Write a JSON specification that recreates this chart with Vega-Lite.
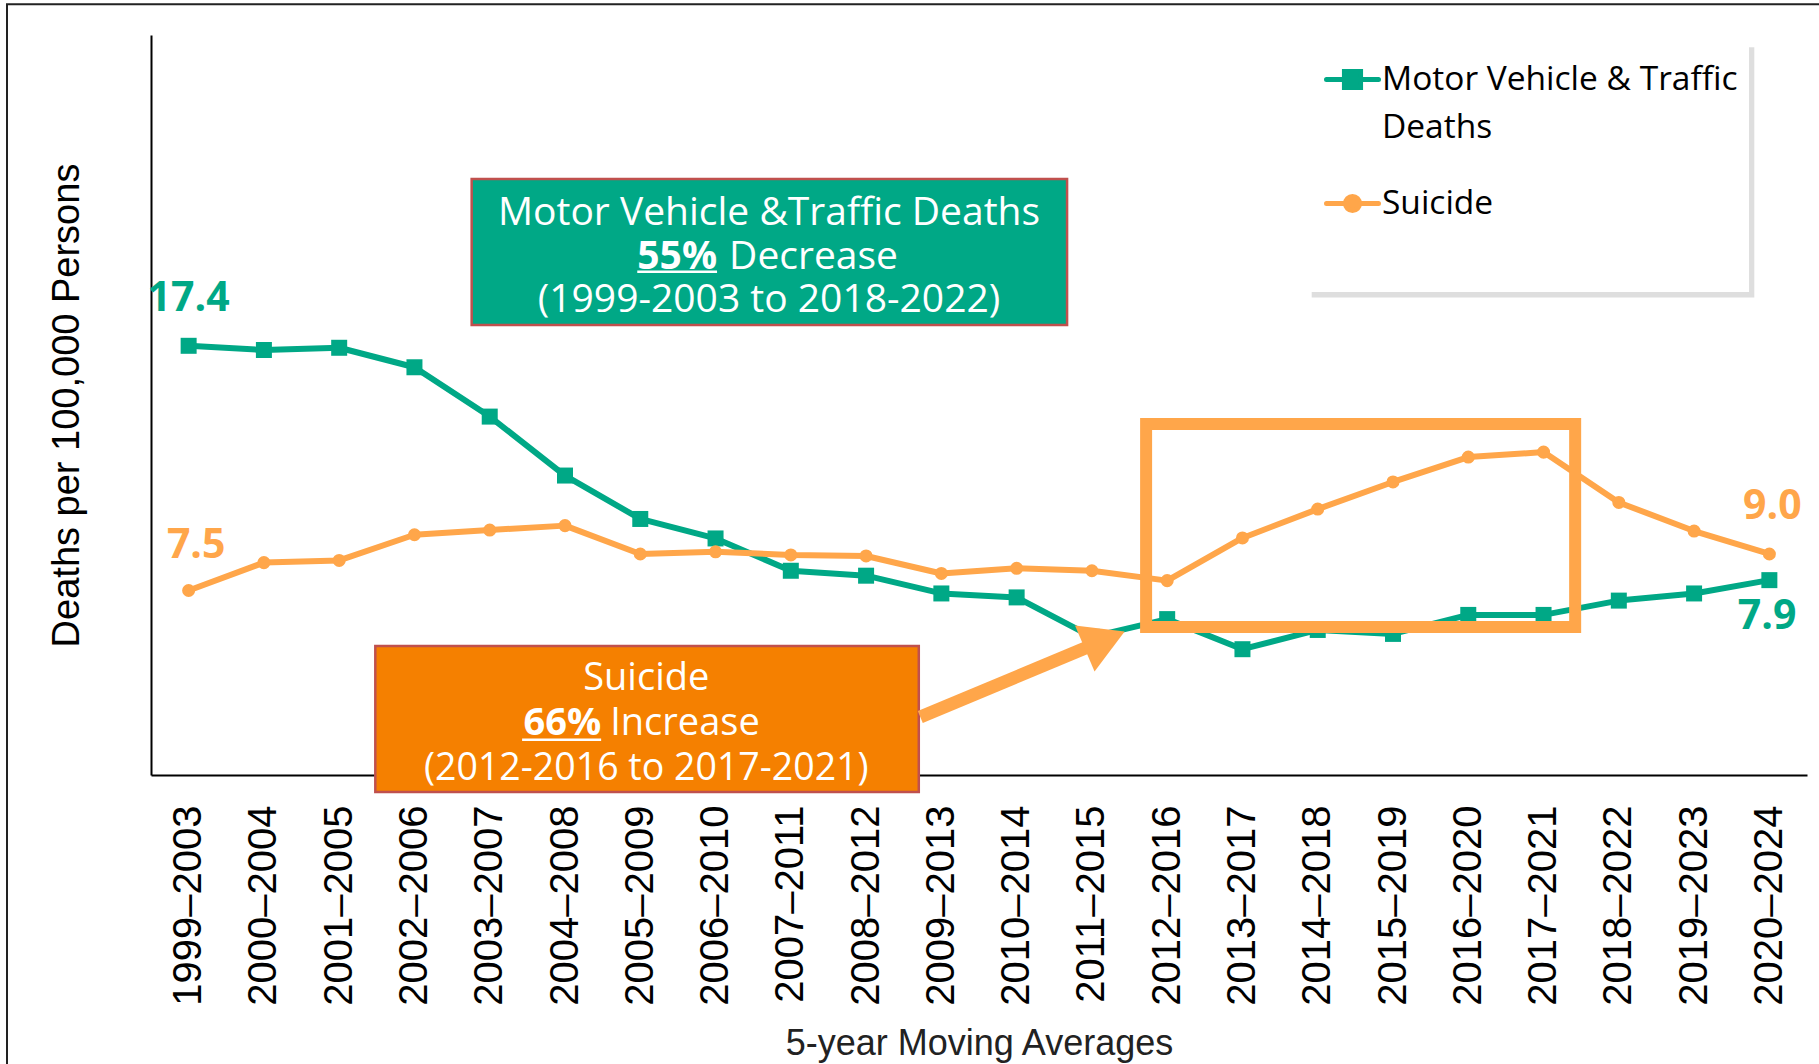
{
  "$schema": "https://vega.github.io/schema/vega-lite/v6.json",
  "width": 1656,
  "height": 740,
  "autosize": "none",
  "padding": {"left": 151, "top": 35, "right": 12, "bottom": 289},
  "background": "white",
  "config": {"view": {"stroke": null}, "font": "Open Sans"},
  "datasets": {
    "rates": [
      {"period": "1999–2003", "series": "Motor Vehicle & Traffic Deaths", "rate": 17.4},
      {"period": "2000–2004", "series": "Motor Vehicle & Traffic Deaths", "rate": 17.23},
      {"period": "2001–2005", "series": "Motor Vehicle & Traffic Deaths", "rate": 17.32},
      {"period": "2002–2006", "series": "Motor Vehicle & Traffic Deaths", "rate": 16.53},
      {"period": "2003–2007", "series": "Motor Vehicle & Traffic Deaths", "rate": 14.53},
      {"period": "2004–2008", "series": "Motor Vehicle & Traffic Deaths", "rate": 12.14},
      {"period": "2005–2009", "series": "Motor Vehicle & Traffic Deaths", "rate": 10.38},
      {"period": "2006–2010", "series": "Motor Vehicle & Traffic Deaths", "rate": 9.59},
      {"period": "2007–2011", "series": "Motor Vehicle & Traffic Deaths", "rate": 8.28},
      {"period": "2008–2012", "series": "Motor Vehicle & Traffic Deaths", "rate": 8.08},
      {"period": "2009–2013", "series": "Motor Vehicle & Traffic Deaths", "rate": 7.36},
      {"period": "2010–2014", "series": "Motor Vehicle & Traffic Deaths", "rate": 7.2},
      {"period": "2011–2015", "series": "Motor Vehicle & Traffic Deaths", "rate": 5.6},
      {"period": "2012–2016", "series": "Motor Vehicle & Traffic Deaths", "rate": 6.32},
      {"period": "2013–2017", "series": "Motor Vehicle & Traffic Deaths", "rate": 5.1},
      {"period": "2014–2018", "series": "Motor Vehicle & Traffic Deaths", "rate": 5.88},
      {"period": "2015–2019", "series": "Motor Vehicle & Traffic Deaths", "rate": 5.72},
      {"period": "2016–2020", "series": "Motor Vehicle & Traffic Deaths", "rate": 6.49},
      {"period": "2017–2021", "series": "Motor Vehicle & Traffic Deaths", "rate": 6.49},
      {"period": "2018–2022", "series": "Motor Vehicle & Traffic Deaths", "rate": 7.07},
      {"period": "2019–2023", "series": "Motor Vehicle & Traffic Deaths", "rate": 7.36},
      {"period": "2020–2024", "series": "Motor Vehicle & Traffic Deaths", "rate": 7.9},
      {"period": "1999–2003", "series": "Suicide", "rate": 7.48},
      {"period": "2000–2004", "series": "Suicide", "rate": 8.61},
      {"period": "2001–2005", "series": "Suicide", "rate": 8.7},
      {"period": "2002–2006", "series": "Suicide", "rate": 9.74},
      {"period": "2003–2007", "series": "Suicide", "rate": 9.93},
      {"period": "2004–2008", "series": "Suicide", "rate": 10.11},
      {"period": "2005–2009", "series": "Suicide", "rate": 8.96},
      {"period": "2006–2010", "series": "Suicide", "rate": 9.05},
      {"period": "2007–2011", "series": "Suicide", "rate": 8.92},
      {"period": "2008–2012", "series": "Suicide", "rate": 8.88},
      {"period": "2009–2013", "series": "Suicide", "rate": 8.17},
      {"period": "2010–2014", "series": "Suicide", "rate": 8.38},
      {"period": "2011–2015", "series": "Suicide", "rate": 8.28},
      {"period": "2012–2016", "series": "Suicide", "rate": 7.88},
      {"period": "2013–2017", "series": "Suicide", "rate": 9.61},
      {"period": "2014–2018", "series": "Suicide", "rate": 10.78},
      {"period": "2015–2019", "series": "Suicide", "rate": 11.88},
      {"period": "2016–2020", "series": "Suicide", "rate": 12.89},
      {"period": "2017–2021", "series": "Suicide", "rate": 13.09},
      {"period": "2018–2022", "series": "Suicide", "rate": 11.05},
      {"period": "2019–2023", "series": "Suicide", "rate": 9.89},
      {"period": "2020–2024", "series": "Suicide", "rate": 8.96}
    ]
  },
  "layer": [
    {
      "data": {"name": "rates"},
      "encoding": {
        "x": {
          "field": "period", "type": "nominal", "sort": null,
          "scale": {"type": "point", "padding": 0.5},
          "axis": {
            "title": "5-year Moving Averages",
            "titleFont": "Liberation Sans", "titleFontSize": 36, "titleFontWeight": "normal", "titleColor": "#222222",
            "titlePadding": 51,
            "labelAngle": 270, "labelFont": "Liberation Sans", "labelFontSize": 40, "labelColor": "#000000",
            "labelPadding": 30, "labelLimit": 400, "ticks": false, "domainColor": "#000000", "domainWidth": 2, "zindex": 0,
            "labelOverlap": false
          }
        },
        "y": {
          "field": "rate", "type": "quantitative",
          "scale": {"domain": [0, 30], "nice": false, "zero": true},
          "axis": {
            "title": "Deaths per 100,000 Persons",
            "titleFont": "Liberation Sans", "titleFontSize": 38, "titleFontWeight": "normal", "titleColor": "#000000",
            "titlePadding": 65, "labels": false, "ticks": false, "grid": false,
            "domainColor": "#000000", "domainWidth": 2, "zindex": 0
          }
        }
      },
      "layer": [
        {
          "mark": {"type": "line", "strokeWidth": 6, "strokeJoin": "round", "strokeCap": "round"},
          "encoding": {
            "color": {
              "field": "series", "type": "nominal",
              "scale": {"domain": ["Motor Vehicle & Traffic Deaths", "Suicide"], "range": ["#00A886", "#FFA64A"]},
              "legend": {
                "title": null,
                "orient": "none",
                "legendX": 1173,
                "legendY": 16,
                "direction": "vertical",
                "padding": 0,
                "labelFont": "Open Sans",
                "labelFontSize": 33.5,
                "labelColor": "#000000",
                "labelLimit": 700,
                "labelOffset": 1,
                "symbolSize": 2704,
                "symbolStrokeWidth": 5,
                "rowPadding": 31,
                "labelExpr": "datum.label === 'Suicide' ? datum.label : ['Motor Vehicle & Traffic', 'Deaths']",
                "encode": {
                  "symbols": {
                    "update": {
                      "shape": {"signal": "datum.value === 'Suicide' ? 'M-1,0H1M-0.27,0A0.27,0.27,0,1,0,0.27,0A0.27,0.27,0,1,0,-0.27,0Z' : 'M-1,0H1M-0.31,-0.31H0.31V0.31H-0.31Z'"},
                      "fill": {"scale": "color", "field": "value"},
                      "stroke": {"scale": "color", "field": "value"},
                      "strokeWidth": {"value": 5},
                      "strokeCap": {"value": "round"},
                      "opacity": {"value": 1}
                    }
                  },
                  "labels": {
                    "update": {
                      "lineHeight": {"value": 48}
                    }
                  }
                }
              }
            }
          }
        },
        {
          "transform": [{"filter": "datum.series === 'Motor Vehicle & Traffic Deaths'"}],
          "mark": {"type": "point", "shape": "square", "filled": true, "size": 256, "opacity": 1, "color": "#00A886"}
        },
        {
          "transform": [{"filter": "datum.series === 'Suicide'"}],
          "mark": {"type": "point", "shape": "circle", "filled": true, "size": 170, "opacity": 1, "color": "#FFA64A"}
        }
      ]
    },
    {
      "data": {"values": [{"note": 1}]},
      "layer": [
        {
          "mark": {"type": "rect", "fill": null, "fillOpacity": 0, "stroke": "#222222", "strokeWidth": 2},
          "encoding": {
            "x": {"datum": -1.913, "type": "quantitative", "scale": {"domain": [0, 22], "nice": false, "zero": false}, "axis": null},
            "x2": {"datum": 22.4},
            "y": {"datum": 31.25, "type": "quantitative", "scale": {"domain": [0, 30], "nice": false}, "axis": null},
            "y2": {"datum": -12.5}
          }
        },
        {
          "mark": {"type": "rect", "fill": "#c8c8c8", "opacity": 0.6},
          "encoding": {
            "x": {"datum": 15.42, "type": "quantitative", "scale": {"domain": [0, 22], "nice": false, "zero": false}, "axis": null},
            "x2": {"datum": 21.3},
            "y": {"datum": 29.5, "type": "quantitative", "scale": {"domain": [0, 30], "nice": false}, "axis": null},
            "y2": {"datum": 19.36}
          }
        },
        {
          "mark": {"type": "rect", "fill": "#ffffff"},
          "encoding": {
            "x": {"datum": 15.36, "type": "quantitative", "scale": {"domain": [0, 22], "nice": false, "zero": false}, "axis": null},
            "x2": {"datum": 21.23},
            "y": {"datum": 29.67, "type": "quantitative", "scale": {"domain": [0, 30], "nice": false}, "axis": null},
            "y2": {"datum": 19.58}
          }
        },
        {
          "mark": {"type": "rect", "fill": "#00A886", "stroke": "#C0504D", "strokeWidth": 2.5},
          "encoding": {
            "x": {"datum": 4.26, "type": "quantitative", "scale": {"domain": [0, 22], "nice": false, "zero": false}, "axis": null},
            "x2": {"datum": 12.17},
            "y": {"datum": 24.16, "type": "quantitative", "scale": {"domain": [0, 30], "nice": false}, "axis": null},
            "y2": {"datum": 18.24}
          }
        },
        {
          "mark": {"type": "text", "text": "Motor Vehicle &Traffic Deaths", "font": "Open Sans", "fontSize": 39, "color": "#ffffff", "align": "center", "baseline": "middle"},
          "encoding": {
            "x": {"datum": 8.21, "type": "quantitative", "scale": {"domain": [0, 22], "nice": false, "zero": false}, "axis": null},
            "y": {"datum": 22.8, "type": "quantitative", "scale": {"domain": [0, 30], "nice": false}, "axis": null}
          }
        },
        {
          "mark": {"type": "text", "text": "55%", "font": "Open Sans", "fontSize": 39, "fontWeight": "bold", "color": "#ffffff", "align": "right", "baseline": "middle"},
          "encoding": {
            "x": {"datum": 7.52, "type": "quantitative", "scale": {"domain": [0, 22], "nice": false, "zero": false}, "axis": null},
            "y": {"datum": 21.02, "type": "quantitative", "scale": {"domain": [0, 30], "nice": false}, "axis": null}
          }
        },
        {
          "mark": {"type": "text", "text": "Decrease", "font": "Open Sans", "fontSize": 39, "color": "#ffffff", "align": "left", "baseline": "middle"},
          "encoding": {
            "x": {"datum": 7.68, "type": "quantitative", "scale": {"domain": [0, 22], "nice": false, "zero": false}, "axis": null},
            "y": {"datum": 21.02, "type": "quantitative", "scale": {"domain": [0, 30], "nice": false}, "axis": null}
          }
        },
        {
          "mark": {"type": "rule", "color": "#ffffff", "strokeWidth": 2.5},
          "encoding": {
            "x": {"datum": 6.46, "type": "quantitative", "scale": {"domain": [0, 22], "nice": false, "zero": false}, "axis": null},
            "x2": {"datum": 7.52},
            "y": {"datum": 20.4, "type": "quantitative", "scale": {"domain": [0, 30], "nice": false}, "axis": null}
          }
        },
        {
          "mark": {"type": "text", "text": "(1999-2003 to 2018-2022)", "font": "Open Sans", "fontSize": 39, "color": "#ffffff", "align": "center", "baseline": "middle"},
          "encoding": {
            "x": {"datum": 8.21, "type": "quantitative", "scale": {"domain": [0, 22], "nice": false, "zero": false}, "axis": null},
            "y": {"datum": 19.24, "type": "quantitative", "scale": {"domain": [0, 30], "nice": false}, "axis": null}
          }
        },
        {
          "mark": {"type": "rect", "fill": "#F58000", "stroke": "#C0504D", "strokeWidth": 2.5},
          "encoding": {
            "x": {"datum": 2.98, "type": "quantitative", "scale": {"domain": [0, 22], "nice": false, "zero": false}, "axis": null},
            "x2": {"datum": 10.2},
            "y": {"datum": 5.23, "type": "quantitative", "scale": {"domain": [0, 30], "nice": false}, "axis": null},
            "y2": {"datum": -0.69}
          }
        },
        {
          "mark": {"type": "text", "text": "Suicide", "font": "Open Sans", "fontSize": 38, "color": "#ffffff", "align": "center", "baseline": "middle"},
          "encoding": {
            "x": {"datum": 6.58, "type": "quantitative", "scale": {"domain": [0, 22], "nice": false, "zero": false}, "axis": null},
            "y": {"datum": 3.91, "type": "quantitative", "scale": {"domain": [0, 30], "nice": false}, "axis": null}
          }
        },
        {
          "mark": {"type": "text", "text": "66%", "font": "Open Sans", "fontSize": 38, "fontWeight": "bold", "color": "#ffffff", "align": "right", "baseline": "middle"},
          "encoding": {
            "x": {"datum": 5.98, "type": "quantitative", "scale": {"domain": [0, 22], "nice": false, "zero": false}, "axis": null},
            "y": {"datum": 2.05, "type": "quantitative", "scale": {"domain": [0, 30], "nice": false}, "axis": null}
          }
        },
        {
          "mark": {"type": "text", "text": "Increase", "font": "Open Sans", "fontSize": 38, "color": "#ffffff", "align": "left", "baseline": "middle"},
          "encoding": {
            "x": {"datum": 6.1, "type": "quantitative", "scale": {"domain": [0, 22], "nice": false, "zero": false}, "axis": null},
            "y": {"datum": 2.05, "type": "quantitative", "scale": {"domain": [0, 30], "nice": false}, "axis": null}
          }
        },
        {
          "mark": {"type": "rule", "color": "#ffffff", "strokeWidth": 2.5},
          "encoding": {
            "x": {"datum": 4.93, "type": "quantitative", "scale": {"domain": [0, 22], "nice": false, "zero": false}, "axis": null},
            "x2": {"datum": 5.98},
            "y": {"datum": 1.43, "type": "quantitative", "scale": {"domain": [0, 30], "nice": false}, "axis": null}
          }
        },
        {
          "mark": {"type": "text", "text": "(2012-2016 to 2017-2021)", "font": "Open Sans", "fontSize": 37.5, "color": "#ffffff", "align": "center", "baseline": "middle"},
          "encoding": {
            "x": {"datum": 6.58, "type": "quantitative", "scale": {"domain": [0, 22], "nice": false, "zero": false}, "axis": null},
            "y": {"datum": 0.26, "type": "quantitative", "scale": {"domain": [0, 30], "nice": false}, "axis": null}
          }
        },
        {
          "mark": {"type": "rect", "fill": null, "fillOpacity": 0, "stroke": "#FFA64A", "strokeWidth": 12},
          "encoding": {
            "x": {"datum": 13.22, "type": "quantitative", "scale": {"domain": [0, 22], "nice": false, "zero": false}, "axis": null},
            "x2": {"datum": 18.92},
            "y": {"datum": 14.23, "type": "quantitative", "scale": {"domain": [0, 30], "nice": false}, "axis": null},
            "y2": {"datum": 6.0}
          }
        },
        {
          "mark": {"type": "rule", "color": "#FFA64A", "strokeWidth": 13, "strokeCap": "butt"},
          "encoding": {
            "x": {"datum": 10.22, "type": "quantitative", "scale": {"domain": [0, 22], "nice": false, "zero": false}, "axis": null},
            "x2": {"datum": 12.55},
            "y": {"datum": 2.35, "type": "quantitative", "scale": {"domain": [0, 30], "nice": false}, "axis": null},
            "y2": {"datum": 5.32}
          }
        },
        {
          "mark": {"type": "point", "shape": "triangle-right", "filled": true, "size": 2500, "angle": 337, "color": "#FFA64A", "opacity": 1},
          "encoding": {
            "x": {"datum": 12.67, "type": "quantitative", "scale": {"domain": [0, 22], "nice": false, "zero": false}, "axis": null},
            "y": {"datum": 5.47, "type": "quantitative", "scale": {"domain": [0, 30], "nice": false}, "axis": null}
          }
        },
        {
          "mark": {"type": "text", "text": "17.4", "font": "Open Sans", "fontSize": 41, "fontWeight": "bold", "color": "#00A886", "align": "center", "baseline": "middle"},
          "encoding": {
            "x": {"datum": 0.5, "type": "quantitative", "scale": {"domain": [0, 22], "nice": false, "zero": false}, "axis": null},
            "y": {"datum": 19.28, "type": "quantitative", "scale": {"domain": [0, 30], "nice": false}, "axis": null}
          }
        },
        {
          "mark": {"type": "text", "text": "7.5", "font": "Open Sans", "fontSize": 41, "fontWeight": "bold", "color": "#FFA64A", "align": "center", "baseline": "middle"},
          "encoding": {
            "x": {"datum": 0.6, "type": "quantitative", "scale": {"domain": [0, 22], "nice": false, "zero": false}, "axis": null},
            "y": {"datum": 9.3, "type": "quantitative", "scale": {"domain": [0, 30], "nice": false}, "axis": null}
          }
        },
        {
          "mark": {"type": "text", "text": "9.0", "font": "Open Sans", "fontSize": 41, "fontWeight": "bold", "color": "#FFA64A", "align": "center", "baseline": "middle"},
          "encoding": {
            "x": {"datum": 21.54, "type": "quantitative", "scale": {"domain": [0, 22], "nice": false, "zero": false}, "axis": null},
            "y": {"datum": 10.86, "type": "quantitative", "scale": {"domain": [0, 30], "nice": false}, "axis": null}
          }
        },
        {
          "mark": {"type": "text", "text": "7.9", "font": "Open Sans", "fontSize": 41, "fontWeight": "bold", "color": "#00A886", "align": "center", "baseline": "middle"},
          "encoding": {
            "x": {"datum": 21.47, "type": "quantitative", "scale": {"domain": [0, 22], "nice": false, "zero": false}, "axis": null},
            "y": {"datum": 6.4, "type": "quantitative", "scale": {"domain": [0, 30], "nice": false}, "axis": null}
          }
        }
      ]
    }
  ],
  "resolve": {"scale": {"x": "independent"}, "axis": {"x": "independent", "y": "independent"}}
}
